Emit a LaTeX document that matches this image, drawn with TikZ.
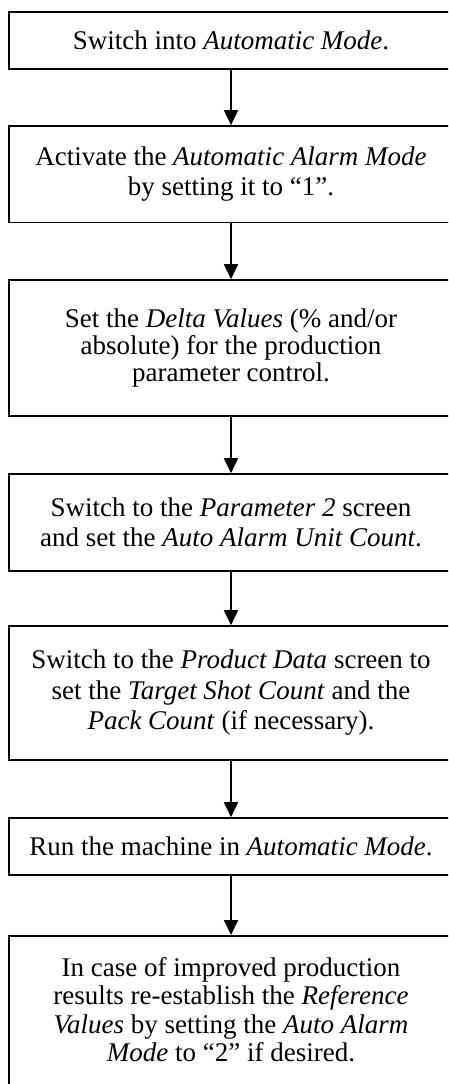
\documentclass[tikz,border=0pt]{standalone}
\usepackage{fontspec}
\setmainfont{Liberation Serif}
\usetikzlibrary{arrows.meta}

\tikzset{
  stepbox/.style={draw=black, line width=1.6pt, rectangle, minimum width=444pt,
    inner sep=0pt, align=center},
  steptext/.style={inner sep=0pt, align=center},
  skip/.style={font={\fontsize{27}{#1}\selectfont}},
  flow/.style={draw=black, line width=1.8pt, -{Triangle[width=14pt,length=15pt]}}
}

\begin{document}
\begin{tikzpicture}[x=1pt, y=-1pt]
  \useasboundingbox (0,0) rectangle (448,1084);
  \clip (0,0) rectangle (448,1084);

  % process steps, top to bottom
  \node[stepbox, skip=30, minimum height=57pt] (s1) at (231,40.5)
    {Switch into \textit{Automatic Mode}.};
  \node[stepbox, skip=30, minimum height=96.7pt] (s2) at (231,174.3)
    {Activate the \textit{Automatic Alarm Mode}\\by setting it to “1”.};
  \node[stepbox, skip=27.3, minimum height=136pt] (s3) at (231,348)
    {Set the \textit{Delta Values} (\% and/or\\absolute) for the production\\parameter control.};
  \node[stepbox, skip=30, minimum height=97pt] (s4) at (231,522.5)
    {Switch to the \textit{Parameter 2} screen\\and set the \textit{Auto Alarm Unit Count}.};
  \node[stepbox, skip=30.5, minimum height=134pt] (s5) at (231,693)
    {Switch to the \textit{Product Data} screen to\\set the \textit{Target Shot Count} and the\\\textit{Pack Count} (if necessary).};
  \node[stepbox, skip=30, minimum height=57pt] (s6) at (231,846.5)
    {Run the machine in \textit{Automatic Mode}.};
  \node[stepbox, minimum height=180pt, anchor=north] (s7) at (231,935) {};
  \node[steptext, skip=28.5] (t7) at (231,1009.5)
    {In case of improved production\\results re-establish the \textit{Reference}\\\textit{Values} by setting the \textit{Auto Alarm}\\\textit{Mode} to “2” if desired.};

  % connectors
  \draw[flow] (s1) -- (s2);
  \draw[flow] (s2) -- (s3);
  \draw[flow] (s3) -- (s4);
  \draw[flow] (s4) -- (s5);
  \draw[flow] (s5) -- (s6);
  \draw[flow] (s6) -- (s7);
\end{tikzpicture}
\end{document}
